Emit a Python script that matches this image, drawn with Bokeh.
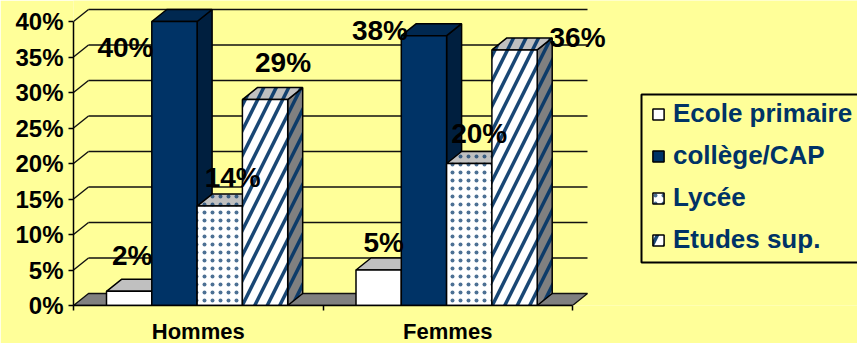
from bokeh.core.properties import value
from bokeh.embed import file_html
from bokeh.models import BoxAnnotation, FixedTicker, Legend, LegendItem, PrintfTickFormatter, Range1d
from bokeh.plotting import figure
from bokeh.resources import INLINE

# Survey shares by sex and level of education (percent)
groups = ["Hommes", "Femmes"]
series_names = ["Ecole primaire", "collège/CAP", "Lycée", "Etudes sup."]
hommes = [2, 40, 14, 29]
femmes = [5, 38, 20, 36]
y_ticks = [0, 5, 10, 15, 20, 25, 30, 35, 40]

# Face colours for each series: front, top, side
front_colors = ["#FFFFFF", "#003366", "#FFFFFF", "#FFFFFF"]
top_colors = ["#C0C0C0", "#002850", "#C0C0C0", "#C0C0C0"]
side_colors = ["#808080", "#001F3F", "#808080", "#808080"]

# Hand placement of the value labels, in pixels from each bar's top centre
label_dx = [[3, -49, 13, 18], [5, -44, 10, 63]]
label_dy = [[-36, 26, -29, -37], [-28, -5, -30, -12]]

BG = "#FFFF99"
NAVY = "#003366"
FONT = "Liberation Sans"

PX_PER_GROUP = 249.5
PX_PER_PCT = 7.1
BAR_W = 45.3 / PX_PER_GROUP
GAP = 33 / PX_PER_GROUP
DEPTH_X = 15 / PX_PER_GROUP
DEPTH_Y = 12 / PX_PER_PCT

textures = [
    {},
    {},
    dict(hatch_pattern="dot", hatch_scale=8, hatch_weight=1, hatch_color=NAVY, hatch_alpha=0.7),
    dict(hatch_pattern="right_diagonal_line", hatch_scale=25, hatch_weight=3.5,
         hatch_color=NAVY, hatch_alpha=0.9),
]

p = figure(
    width=857, height=343, frame_width=784, frame_height=305,
    output_backend="svg", toolbar_location=None,
    x_range=Range1d(0, 784 / PX_PER_GROUP), y_range=Range1d(0, 305 / PX_PER_PCT),
    min_border_left=73, min_border_right=0, min_border_top=0, min_border_bottom=38,
    background_fill_color=BG, border_fill_color=BG, outline_line_color=None,
)
p.grid.visible = False

# Back wall: slanted tick extensions and horizontal rules
x_end = len(groups)
gx0, gy0, gx1, gy1 = [], [], [], []
for t in y_ticks[1:]:
    gx0 += [0, DEPTH_X]
    gy0 += [t, t + DEPTH_Y]
    gx1 += [DEPTH_X, x_end + DEPTH_X]
    gy1 += [t + DEPTH_Y, t + DEPTH_Y]
p.segment(gx0, gy0, gx1, gy1, line_color="#111111", line_width=1.4)

# Floor
p.patch([0, DEPTH_X, x_end + DEPTH_X, x_end], [0, DEPTH_Y, DEPTH_Y, 0],
        fill_color="#808080", line_color="#111111", line_width=1.4)

# Bars: each series gets its side, top and front faces
items = []
for s, name in enumerate(series_names):
    lefts = [g + GAP + s * BAR_W for g in range(len(groups))]
    rights = [l + BAR_W for l in lefts]
    vals = [hommes[s], femmes[s]]
    sx = [[r, r + DEPTH_X, r + DEPTH_X, r] for r in rights]
    sy = [[0, DEPTH_Y, v + DEPTH_Y, v] for v in vals]
    tx = [[l, l + DEPTH_X, r + DEPTH_X, r] for l, r in zip(lefts, rights)]
    ty = [[v, v + DEPTH_Y, v + DEPTH_Y, v] for v in vals]
    p.patches(sx, sy, fill_color=side_colors[s], line_color="black", line_width=1.5, **textures[s])
    p.patches(tx, ty, fill_color=top_colors[s], line_color="black", line_width=1.5, **textures[s])
    front = p.quad(left=lefts, right=rights, bottom=0, top=vals,
                   fill_color=front_colors[s], line_color="black", line_width=1.5, **textures[s])
    items.append(LegendItem(label=name, renderers=[front]))

# Value labels
for g in range(len(groups)):
    vals = [hommes, femmes][g]
    xs = [g + GAP + (s + 0.5) * BAR_W for s in range(len(series_names))]
    p.text(xs, vals, text=[f"{v}%" for v in vals],
           x_offset=label_dx[g], y_offset=label_dy[g],
           text_align="center", text_baseline="middle",
           text_font=value(FONT), text_font_style="bold",
           text_font_size="28px", text_color="black")

# Axes
yax = p.yaxis[0]
yax.ticker = FixedTicker(ticks=y_ticks)
yax.formatter = PrintfTickFormatter(format="%d%%")
yax.bounds = (0, 40)
yax.major_tick_in = 0
yax.major_tick_out = 5
yax.minor_tick_out = 0
yax.minor_tick_in = 0
yax.axis_line_width = 1.5
yax.major_tick_line_width = 1.5
yax.major_label_standoff = 5
yax.major_label_text_font = FONT
yax.major_label_text_font_style = "bold"
yax.major_label_text_font_size = "24px"
yax.major_label_text_color = "black"

xax = p.xaxis[0]
xax.ticker = FixedTicker(ticks=[0.5, 1.5], minor_ticks=[0, 1, 2])
xax.major_label_overrides = {0.5: groups[0], 1.5: groups[1]}
xax.bounds = (0, 2)
xax.major_tick_in = 0
xax.major_tick_out = 0
xax.minor_tick_in = 0
xax.minor_tick_out = 5
xax.axis_line_width = 1.5
xax.minor_tick_line_width = 1.5
xax.major_label_standoff = 8
xax.major_label_text_font = FONT
xax.major_label_text_font_style = "bold"
xax.major_label_text_font_size = "22px"
xax.major_label_text_color = "black"

# Legend frame runs off the right edge of the page
p.add_layout(BoxAnnotation(
    left=641, right=870, top=94, bottom=262,
    left_units="canvas", right_units="canvas", top_units="canvas", bottom_units="canvas",
    fill_alpha=0, line_color="black", line_width=2, line_alpha=1,
))
legend = Legend(
    items=items, location=(578, 50), orientation="vertical",
    background_fill_alpha=0, border_line_alpha=0,
    label_text_font=FONT, label_text_font_style="bold",
    label_text_font_size="26px", label_text_color=NAVY,
    glyph_width=14, glyph_height=14, label_standoff=8,
    spacing=11, padding=0, margin=0,
)
p.add_layout(legend, "center")

open("out.html", "w").write(file_html(p, INLINE))
